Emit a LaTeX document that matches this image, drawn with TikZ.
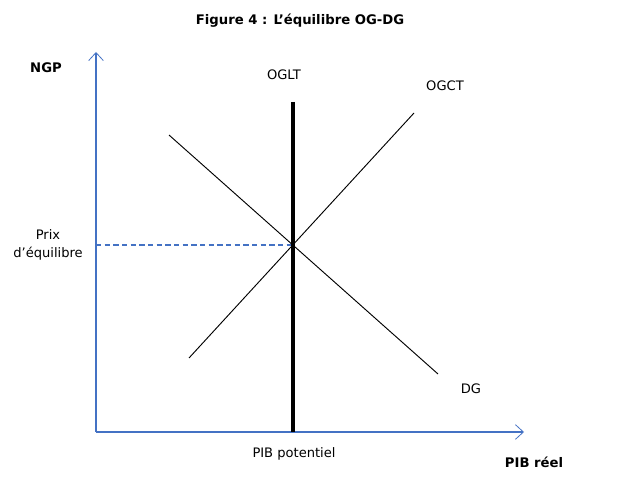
\documentclass[tikz,border=0pt]{standalone}
\usepackage{fontspec}
\setmainfont{DejaVu Sans}
\usetikzlibrary{arrows.meta}
\definecolor{axisblue}{HTML}{4472C4}
\begin{document}
\begin{tikzpicture}[x=0.75pt,y=-0.75pt,
  lbl/.style={font=\fontsize{9.8}{12}\selectfont, inner sep=0pt},
  blbl/.style={font=\fontsize{9.9}{12}\selectfont\bfseries, inner sep=0pt},
  axis/.style={draw=axisblue, line width=0.8pt, -{Straight Barb[length=6pt,width=11pt,line width=0.6pt]}},
  curve/.style={draw=black, line width=0.7pt},
  thick line/.style={draw=black, line width=2.6pt}]
\useasboundingbox (0,0) rectangle (627,477);
% coordinates
\coordinate (o) at (96,432);
\coordinate (ytip) at (96,52);
\coordinate (xtip) at (524,432);
\coordinate (lt1) at (293,102);
\coordinate (lt2) at (293,432);
\coordinate (ct1) at (189,358);
\coordinate (ct2) at (414,113);
\coordinate (dg1) at (169,135);
\coordinate (dg2) at (438,374);
\coordinate (eq) at (293,245);
\coordinate (peq) at (96,245);
% axes
\draw[axis] (o) -- (ytip);
\draw[axis] (o) -- (xtip);
% dashed
\draw[draw=axisblue, line width=0.9pt, dash pattern=on 4pt off 2.5pt] (peq) -- (eq);
% curves
\draw[curve] (ct1) -- (ct2);
\draw[curve] (dg1) -- (dg2);
\draw[thick line] (lt1) -- (lt2);
% labels
\node[blbl] (title) at (300,21) {Figure 4 : L’équilibre OG-DG};
\node[blbl] (ngp) at (46,68) {NGP};
\node[lbl] (oglt) at (284,75) {OGLT};
\node[lbl] (ogct) at (445,86) {OGCT};
\node[lbl, align=center] (prix) at (48,245) {Prix\\[1pt]d’équilibre};
\node[lbl] (dg) at (471,389) {DG};
\node[lbl] (pibpot) at (294,454) {PIB potentiel};
\node[blbl] (pibreel) at (534,462) {PIB réel};
\end{tikzpicture}
\end{document}
